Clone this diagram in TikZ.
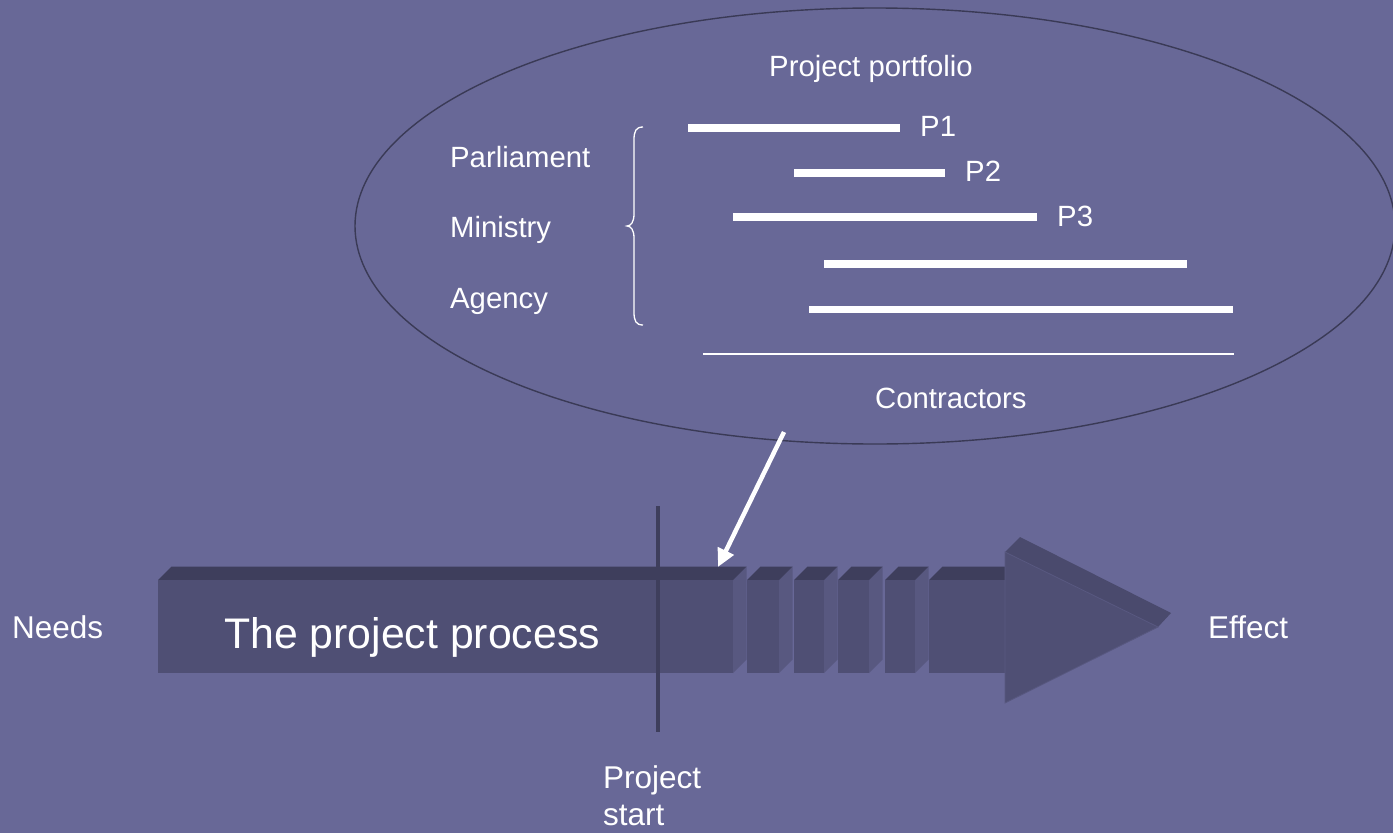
\documentclass[tikz,border=0pt]{standalone}
\usepackage{fontspec}
\setmainfont{Liberation Sans}
\usetikzlibrary{arrows.meta}
\definecolor{bgc}{RGB}{104,104,151}
\definecolor{frontc}{RGB}{79,79,116}
\definecolor{topc}{RGB}{62,62,92}
\definecolor{sidec}{RGB}{88,88,128}
\definecolor{headtop}{RGB}{74,74,109}
\definecolor{linec}{RGB}{58,58,86}
\tikzset{
  lbl/.style={text=white, font=\fontsize{29.3}{35}\selectfont, inner sep=0pt, anchor=base west},
  outlbl/.style={text=white, font=\fontsize{31.5}{37}\selectfont, inner sep=0pt, anchor=base west},
  biglbl/.style={text=white, font=\fontsize{42.8}{50}\selectfont, inner sep=0pt, anchor=base west},
  pbar/.style={draw=white, line width=7.5pt},
  thinbar/.style={draw=white, line width=2pt},
  oval/.style={draw=linec, line width=1.4pt},
}
\begin{document}
\begin{tikzpicture}[x=1pt,y=-1pt]
\fill[bgc] (0,0) rectangle (1393,833);
\useasboundingbox (0,0) rectangle (1393,833);

% ellipse
\draw[oval] (875,226) ellipse [x radius=520pt, y radius=218pt];

% portfolio
\node[lbl] (pp) at (769,76) {Project portfolio};
\draw[pbar] (688,128) coordinate (p1a) -- (900,128) coordinate (p1b);
\node[lbl] (p1) at (920,136) {P1};
\draw[pbar] (794,173) coordinate (p2a) -- (945,173) coordinate (p2b);
\node[lbl] (p2) at (965,181) {P2};
\draw[pbar] (733,217) coordinate (p3a) -- (1037,217) coordinate (p3b);
\node[lbl] (p3) at (1057,226) {P3};
\draw[pbar] (824,264) coordinate (p4a) -- (1187,264) coordinate (p4b);
\draw[pbar] (809,309.5) coordinate (p5a) -- (1233,309.5) coordinate (p5b);
\draw[thinbar] (703,354) coordinate (ca) -- (1234,354) coordinate (cb);
\node[lbl] (con) at (875,408) {Contractors};

\node[lbl] (par) at (450,167) {Parliament};
\node[lbl] (min) at (450,237) {Ministry};
\node[lbl] (age) at (450,308) {Agency};

% brace
\draw[white, line width=1.3pt] (643,127) .. controls (636,127) and (634,131) .. (634,140) -- (634,214)
  .. controls (634,222) and (631,226) .. (627,226)
  .. controls (631,226) and (634,230) .. (634,238) -- (634,312)
  .. controls (634,321) and (636,325) .. (643,325);

% process bar
\foreach \a/\b in {158/733, 747/779, 794/824, 838/869, 885/915}{
  \fill[sidec] (\b,580) -- (\b+13.5,566.5) -- (\b+13.5,659.5) -- (\b,673) -- cycle;
  \fill[topc] (\a,580) -- (\a+13.5,566.5) -- (\b+13.5,566.5) -- (\b,580) -- cycle;
  \fill[frontc] (\a,580) rectangle (\b,673);
}
\fill[topc] (929,580) -- (942.5,566.5) -- (1005,566.5) -- (1005,580) -- cycle;
\fill[frontc] (929,580) rectangle (1006,673);
% head
\fill[headtop] (1005,552) -- (1020,537) -- (1171,613) -- (1158,627) -- cycle;
\fill[frontc, draw=sidec, line width=0.8pt] (1005,552) -- (1158,627) -- (1005,703) -- cycle;

\node[biglbl] (tpp) at (224,648) {The project process};

% project start line
\coordinate (vs) at (658,506);
\coordinate (ve) at (658,732);
\draw[topc, line width=4pt] (vs) -- (ve);

\node[outlbl] (needs) at (12,638) {Needs};
\node[outlbl] (eff) at (1208,638) {Effect};
\node[outlbl] (ps1) at (603,788) {Project};
\node[outlbl] (ps2) at (603,825) {start};

% white arrow
\coordinate (as) at (784,432);
\coordinate (ae) at (718,567);
\draw[white, line width=4.5pt, -{Triangle[length=18pt,width=17pt]}] (as) -- (ae);
\end{tikzpicture}
\end{document}
